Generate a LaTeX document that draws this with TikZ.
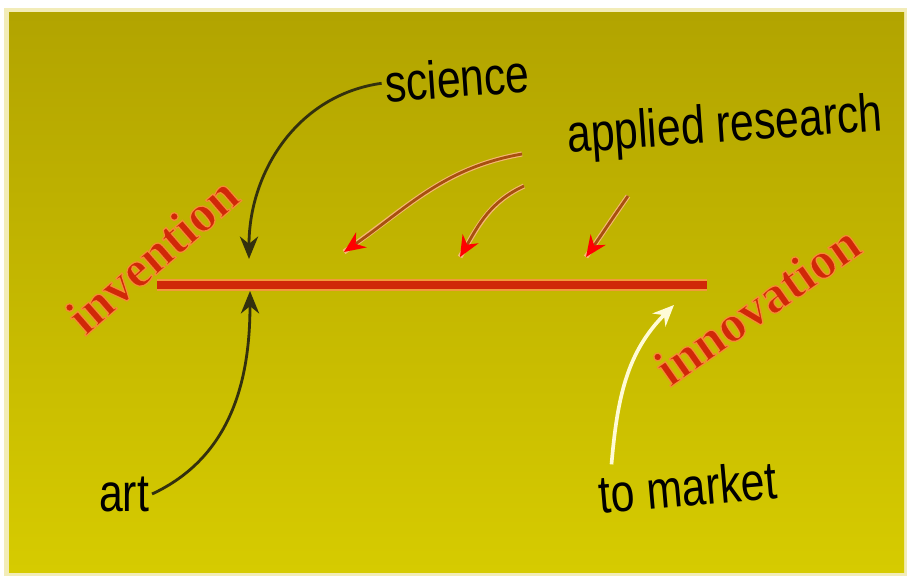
\documentclass[tikz,border=0pt]{standalone}
\usepackage{fontspec}
\usepackage{xcolor}
\usepackage{tikz}
\usetikzlibrary{positioning,arrows.meta}
\newfontfamily\labelfont[FakeStretch=0.8]{Liberation Sans}
\newfontfamily\wordfont{Liberation Serif}
\definecolor{bgtop}{HTML}{B2A400}
\definecolor{bgbot}{HTML}{D6CB00}
\definecolor{rim}{HTML}{F2ECB8}
\definecolor{barred}{HTML}{D02808}
\definecolor{glow}{HTML}{F29A3A}
\definecolor{inkdark}{HTML}{33300E}
\definecolor{rusty}{HTML}{A8500E}
\definecolor{cream}{HTML}{FFFBD6}
% red word with an orange rim (fill and stroke)
\newcommand{\rimword}[1]{\special{pdf:literal direct 2 Tr 0.9 w 0.96 0.55 0.2 RG}#1\special{pdf:literal direct 0 Tr}}

\begin{document}
\begin{tikzpicture}[x=0.025cm,y=-0.025cm,
    lbl/.style={font=\labelfont\fontsize{38}{40}\selectfont,text=black,inner sep=2pt},
    word/.style={font=\wordfont\bfseries\fontsize{37}{40}\selectfont,text=barred,inner sep=0pt},
    darkarrow/.style={-{Stealth[length=16pt,width=13pt]},line width=2pt,draw=inkdark},
    redarrow/.style={-{Stealth[length=15pt,width=13pt,color=red]},line width=2pt,draw=rusty,
        preaction={draw=glow!70,line width=3.6pt,-}},
    marketarrow/.style={-{Stealth[length=15pt,width=13pt]},line width=2.6pt,draw=cream}]
    % frame and background
    \fill[white](0,0)rectangle(909,578);
    \fill[rim](4,8)rectangle(907,576);
    \shade[top color=bgtop,bottom color=bgbot](9,13)rectangle(904,572);
    % the bar
    \coordinate (barL) at (157,285);
    \coordinate (barR) at (707,285);
    \draw[glow,line width=9pt](barL)--(barR);
    \draw[barred,line width=5pt](barL)--(barR);
    % labels
    \node[lbl,rotate=4] (science) at (457,78) {science};
    \node[lbl,rotate=4] (applied) at (725,128) {applied research};
    \node[lbl] (art) at (124,494) {art};
    \node[lbl,rotate=5] (market) at (688,487) {to market};
    % where the arrows meet the bar
    \coordinate (sciTip) at (249,259);
    \coordinate (artTip) at (250,291);
    \coordinate (apTipA) at (344,252);
    \coordinate (apTipB) at (460,257);
    \coordinate (apTipC) at (586,257);
    \coordinate (mkTip) at (674,305);
    \coordinate (apA) at (522,154);
    \coordinate (apB) at (524,186);
    \coordinate (apC) at (628,196);
    % arrows
    \draw[darkarrow](science.west)to[out=188,in=90](sciTip);
    \draw[darkarrow](art.east)to[out=25,in=-90](artTip);
    \draw[redarrow](apA)to[out=190,in=35](apTipA);
    \draw[redarrow](apB)to[out=205,in=60](apTipB);
    \draw[redarrow](apC)to[out=235,in=55](apTipC);
    \draw[marketarrow]([xshift=-53pt]market.north)to[out=85,in=225](mkTip);
    \node[word,rotate=41] (invention) at (152,255) {\rimword{invention}};
    \node[word,rotate=35] (innovation) at (757,305) {\rimword{innovation}};
\end{tikzpicture}
\end{document}
